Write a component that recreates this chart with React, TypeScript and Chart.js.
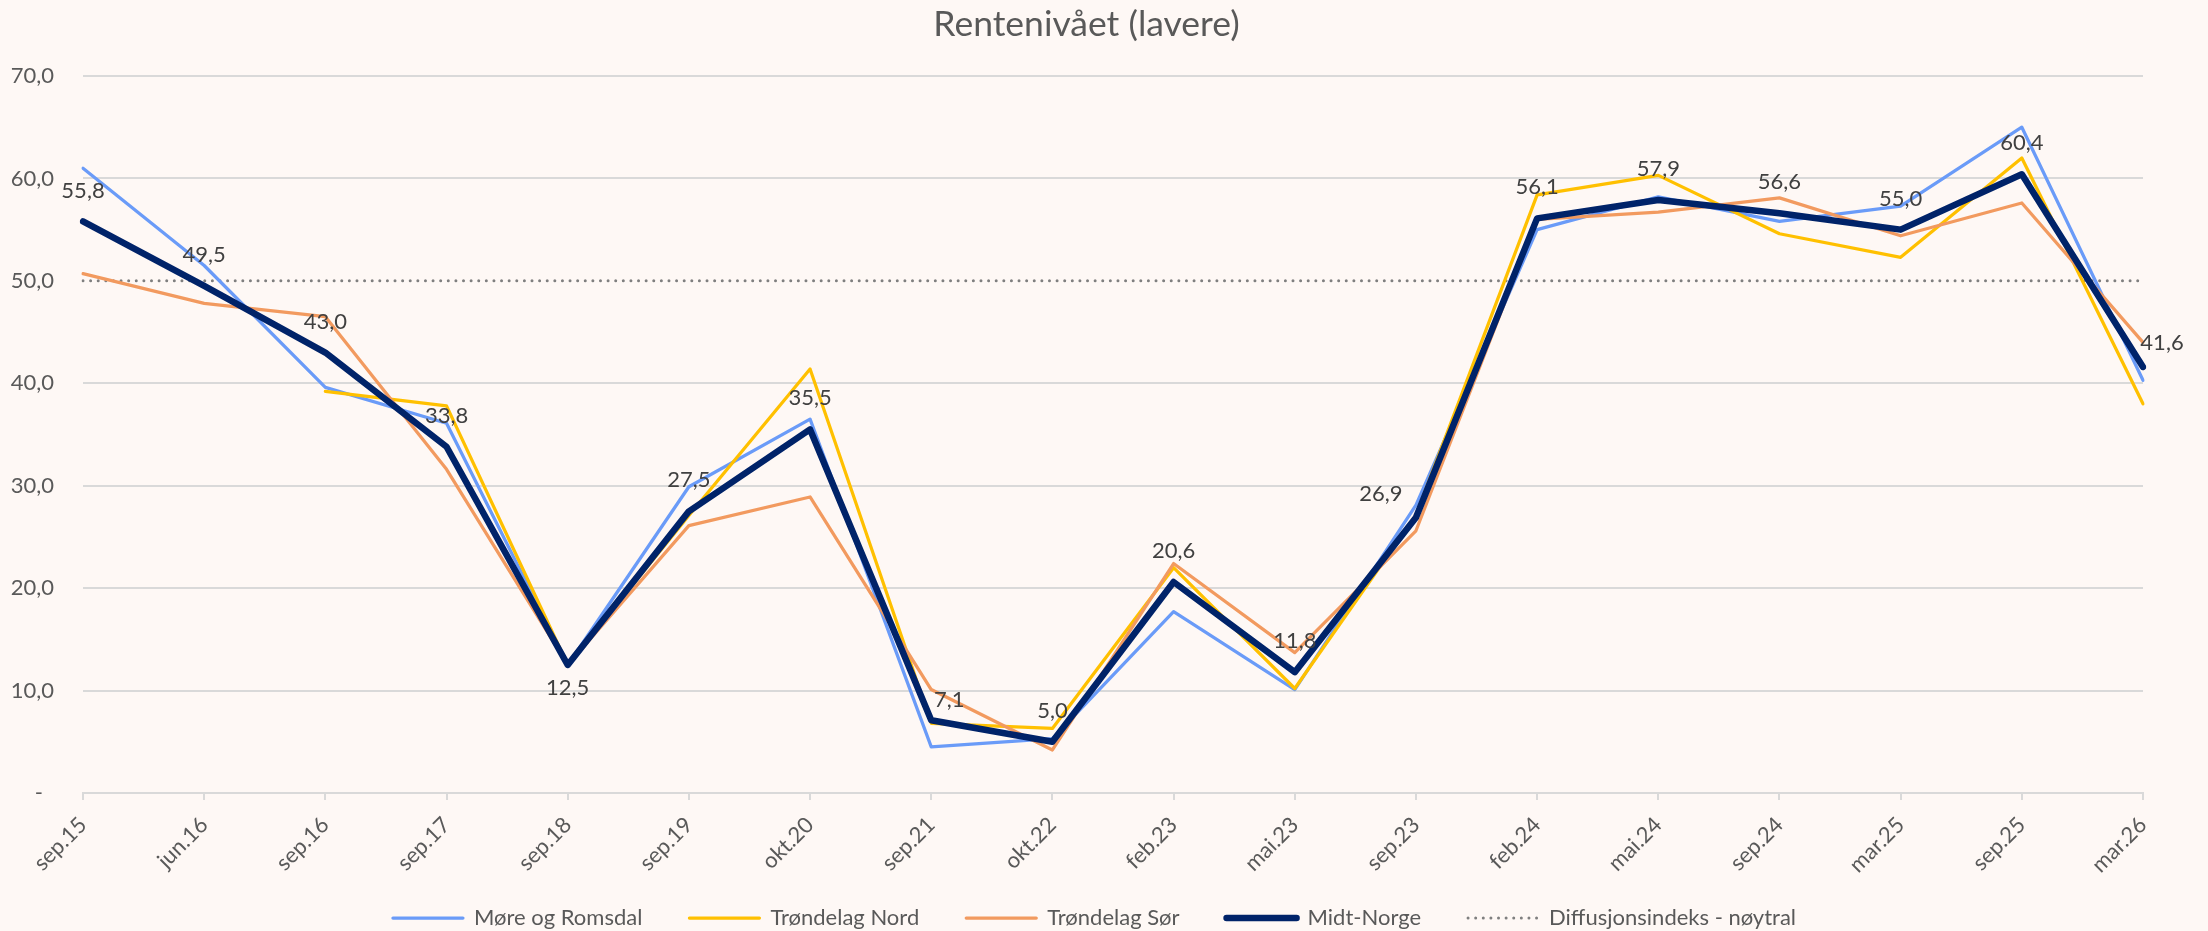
import { useEffect, useRef } from 'react';
import { Chart, registerables } from 'chart.js';

Chart.register(...registerables);

const categories = [
  'sep.15', 'jun.16', 'sep.16', 'sep.17', 'sep.18', 'sep.19', 'okt.20', 'sep.21', 'okt.22',
  'feb.23', 'mai.23', 'sep.23', 'feb.24', 'mai.24', 'sep.24', 'mar.25', 'sep.25', 'mar.26',
];

const moreOgRomsdal = [61.0, 51.5, 39.6, 36.1, 12.5, 29.9, 36.5, 4.5, 5.3, 17.7, 10.1, 28.1, 55.0, 58.2, 55.8, 57.3, 65.0, 40.3];
const trondelagNord = [null, null, 39.2, 37.8, 12.5, 27.1, 41.4, 6.8, 6.3, 22.0, 10.2, 27.1, 58.4, 60.3, 54.6, 52.3, 62.0, 38.0];
const trondelagSor = [50.7, 47.8, 46.5, 31.6, 12.5, 26.1, 28.9, 10.1, 4.2, 22.4, 13.7, 25.6, 56.0, 56.7, 58.1, 54.4, 57.6, 44.0];
const midtNorge = [55.8, 49.5, 43.0, 33.8, 12.5, 27.5, 35.5, 7.1, 5.0, 20.6, 11.8, 26.9, 56.1, 57.9, 56.6, 55.0, 60.4, 41.6];
const neutralLevel = categories.map(() => 50);

const seriesNames = ['Møre og Romsdal', 'Trøndelag Nord', 'Trøndelag Sør', 'Midt-Norge', 'Diffusjonsindeks - nøytral'];
const titleText = 'Rentenivået (lavere)';
const yMin = 0;
const yMax = 70;
const yStep = 10;

const FONT = 'Lato, "Open Sans", sans-serif';
const TEXT = '#595959';
const GRID = '#D9D9D9';
const BG = '#FEF8F5';

// label placement tweaks for the Midt-Norge data labels (style, not data)
const LABEL_DEFAULT: [number, number] = [0, -31];
const LABEL_TWEAKS: Record<number, [number, number]> = {
  4: [0, 23],
  7: [18, -20],
  11: [-35, -24],
  17: [19, -24],
};

const fmt = (v: number) => v.toFixed(1).replace('.', ',');

const labelPlugin = {
  id: 'midtLabels',
  afterLayout(chart: any) {
    // let rotated x labels draw below the axis box without clipping
    const x = chart.scales.x;
    x.bottom = chart.height;
    // centre legend / title like the reference
    if (chart.legend) {
      chart.legend.left += 23;
      chart.legend.right += 23;
      chart.legend.top += 10;
      chart.legend.bottom += 10;
    }
    if (chart.titleBlock) {
      chart.titleBlock.left += 15;
      chart.titleBlock.right += 15;
    }
  },
  afterDatasetsDraw(chart: any) {
    const meta = chart.getDatasetMeta(3);
    const ctx = chart.ctx;
    ctx.save();
    ctx.font = `22px ${FONT}`;
    ctx.fillStyle = '#404040';
    ctx.textAlign = 'center';
    ctx.textBaseline = 'middle';
    meta.data.forEach((pt: any, i: number) => {
      const v = midtNorge[i];
      if (v == null) return;
      const off = LABEL_TWEAKS[i] || LABEL_DEFAULT;
      ctx.fillText(fmt(v), pt.x + off[0], pt.y + off[1]);
    });
    ctx.restore();
  },
};

export default function App() {
  const ref = useRef<HTMLCanvasElement | null>(null);

  useEffect(() => {
    document.body.style.margin = '0';
    document.body.style.background = BG;
    if (!ref.current) return;
    const styles = [
      { color: '#6A9BF8', width: 3.25, dash: [] as number[], order: 3 },
      { color: '#FFC000', width: 3.25, dash: [] as number[], order: 2 },
      { color: '#F29A5F', width: 3.25, dash: [] as number[], order: 1 },
      { color: '#002369', width: 6.5, dash: [] as number[], order: 0 },
      { color: '#7F7F7F', width: 3, dash: [0.01, 7.6], order: 9 },
    ];
    const values = [moreOgRomsdal, trondelagNord, trondelagSor, midtNorge, neutralLevel];
    const chart = new Chart(ref.current, {
      type: 'line',
      data: {
        labels: categories,
        datasets: values.map((d, i) => ({
          label: seriesNames[i],
          data: d,
          borderColor: styles[i].color,
          backgroundColor: styles[i].color,
          borderWidth: styles[i].width,
          borderDash: styles[i].dash,
          borderCapStyle: 'round',
          borderJoinStyle: 'round',
          pointRadius: 0,
          pointHoverRadius: 0,
          tension: 0,
          spanGaps: false,
          order: styles[i].order,
        })),
      },
      options: {
        animation: false,
        responsive: false,
        devicePixelRatio: 1,
        layout: { padding: { left: 0, right: 65, top: 0, bottom: 2 } },
        plugins: {
          tooltip: { enabled: false },
          title: {
            display: true,
            text: titleText,
            color: TEXT,
            font: { family: FONT, size: 35.5, weight: 'normal', lineHeight: 1.2 },
            padding: { top: 3, bottom: 30.4 },
          },
          legend: {
            position: 'bottom',
            labels: {
              usePointStyle: true,
              pointStyleWidth: 70,
              padding: 47,
              color: TEXT,
              font: { family: FONT, size: 22 },
              generateLabels: () =>
                seriesNames.map((name, i) => ({
                  text: name,
                  fillStyle: styles[i].color,
                  strokeStyle: styles[i].color,
                  lineWidth: styles[i].width,
                  lineDash: styles[i].dash,
                  lineCap: 'round',
                  pointStyle: 'line',
                  fontColor: TEXT,
                  hidden: false,
                  datasetIndex: i,
                })),
            },
          },
        },
        scales: {
          x: {
            type: 'category',
            offset: false,
            afterFit: (s: any) => { s.height = 57; },
            grid: {
              display: true,
              drawOnChartArea: false,
              drawTicks: true,
              tickLength: 7,
              color: GRID,
              lineWidth: 2,
            },
            border: { display: true, color: GRID, width: 2 },
            ticks: {
              autoSkip: false,
              minRotation: 45,
              maxRotation: 45,
              padding: 12,
              color: TEXT,
              font: { family: FONT, size: 22 },
            },
          },
          y: {
            min: yMin,
            max: yMax,
            afterFit: (s: any) => { s.width = 83; },
            grid: {
              drawTicks: false,
              lineWidth: 2,
              color: (c: any) => (c.tick && c.tick.value === 50 ? 'rgba(0,0,0,0)' : GRID),
            },
            border: { display: false },
            ticks: {
              stepSize: yStep,
              padding: 29,
              color: TEXT,
              font: { family: FONT, size: 22 },
              callback: (v: any) => (Number(v) === 0 ? '-\u2002' : fmt(Number(v))),
            },
          },
        },
      },
      plugins: [labelPlugin],
    } as any);
    return () => chart.destroy();
  }, []);

  return (
    <div style={{ width: 2208, height: 931, background: BG }}>
      <canvas ref={ref} width={2208} height={931} style={{ display: 'block', width: 2208, height: 931 }} />
    </div>
  );
}
